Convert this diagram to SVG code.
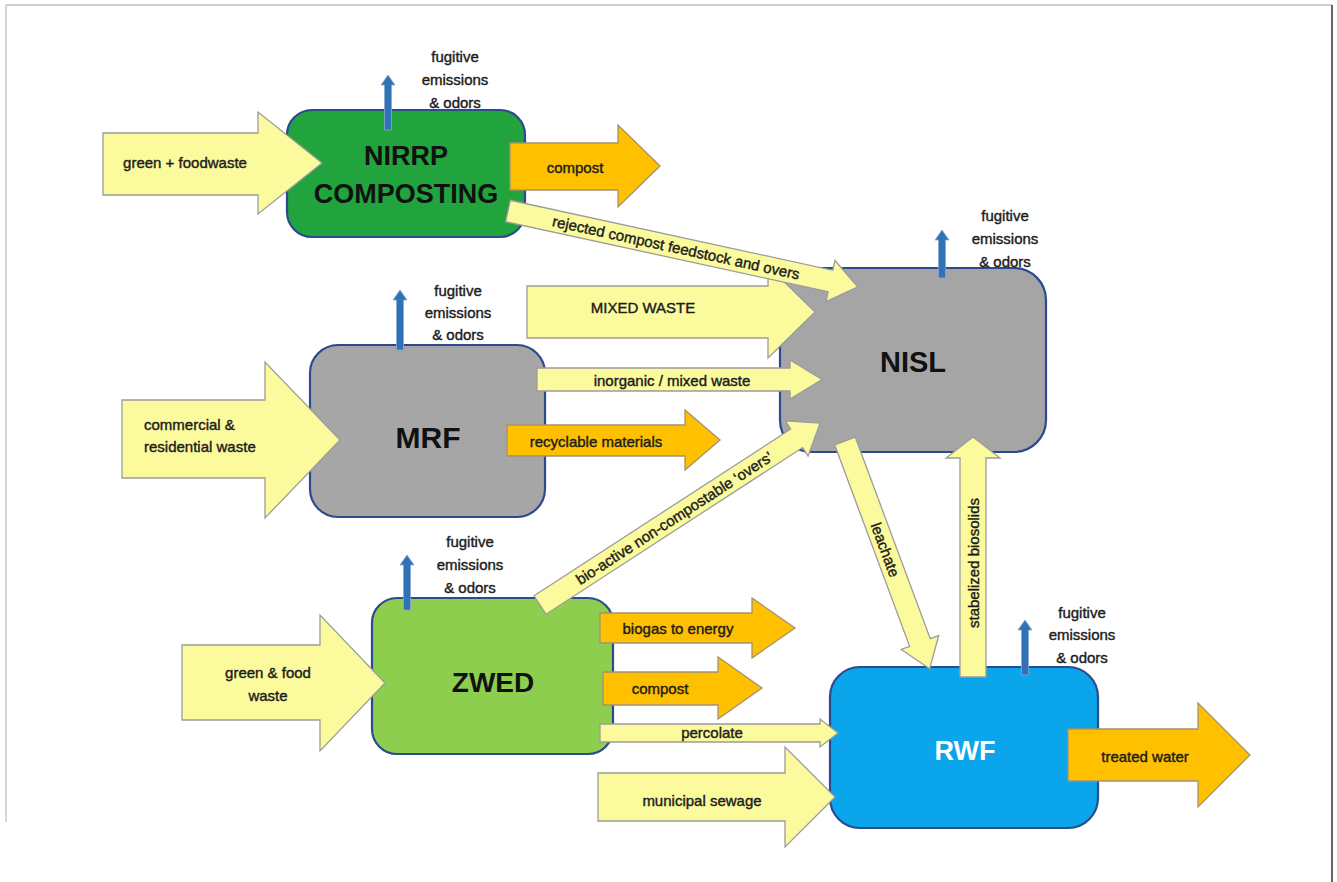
<svg xmlns="http://www.w3.org/2000/svg" width="1337" height="882" viewBox="0 0 1337 882">
<defs>
<style>
.y{fill:#fbfb9e;stroke:#9c9c9c;stroke-width:1.3}
.o{fill:#ffc000;stroke:#a39270;stroke-width:1.3}
.b{fill:#2f72b8;stroke:#8aa8cc;stroke-width:0.8}
.box{stroke:#2c4a8e;stroke-width:2.2}
.t{font-family:"Liberation Sans",Arial,sans-serif;font-size:15px;fill:#1c1c1c;stroke:#1c1c1c;stroke-width:0.4;text-anchor:middle;dominant-baseline:central}
.tl{text-anchor:start}
.n{font-family:"Liberation Sans",Arial,sans-serif;font-weight:bold;fill:#111;text-anchor:middle;dominant-baseline:central}
</style>
</defs>
<rect width="1337" height="882" fill="#ffffff"/>
<g id="frame" fill="none">
<line x1="6" y1="5" x2="1332" y2="5" stroke="#cfcfcf" stroke-width="2"/>
<line x1="6" y1="5" x2="6" y2="822" stroke="#d6d6d6" stroke-width="2"/>
<line x1="1332" y1="5" x2="1332" y2="882" stroke="#333" stroke-width="1.5"/>
</g>

<g id="nirrp">
<rect class="box" x="287" y="110" width="238" height="127" rx="25" fill="#21a33e"/>
<text class="n" x="406" y="156" font-size="27">NIRRP</text>
<text class="n" x="406" y="194" font-size="27">COMPOSTING</text>
</g>
<g id="nisl">
<rect class="box" x="780" y="268" width="266" height="184" rx="32" fill="#a5a5a5"/>
<text class="n" x="913" y="362" font-size="29">NISL</text>
</g>
<g id="mrf">
<rect class="box" x="310" y="345" width="235" height="172" rx="28" fill="#a6a6a6"/>
<text class="n" x="428" y="437" font-size="30">MRF</text>
</g>
<g id="zwed">
<rect class="box" x="372" y="598" width="241" height="156" rx="25" fill="#8dce4e"/>
<text class="n" x="493" y="682" font-size="28">ZWED</text>
</g>
<g id="rwf">
<rect class="box" x="830" y="667" width="268" height="161" rx="30" fill="#0aa5ea"/>
<text class="n" x="965" y="751" font-size="27" style="fill:#ffffff">RWF</text>
</g>

<g id="connectors">
<polygon class="y" points="103,133 258,133 258,112 322,163 258,214 258,195 103,195"/>
<polygon class="y" points="122,400 265,400 265,362 340,440 265,518 265,478 122,478"/>
<polygon class="y" points="182,645 320,645 320,615 385,683 320,751 320,720 182,720"/>
<polygon class="y" points="527,286 768,286 768,266 815,312 768,358 768,338 527,338"/>
<polygon class="y" points="598,773 785,773 785,747 835,797 785,847 785,821 598,821"/>
<polygon class="y" points="537,368 790,368 790,360 822,379.5 790,399 790,391 537,391"/>
<polygon class="y" points="600,724 820,724 820,719 838,733 820,747 820,742 600,742"/>
<g transform="translate(508,211) rotate(12.25)">
<polygon class="y" points="0,-11 330,-11 330,-21 358,0 330,21 330,11 0,11"/>
<text class="t" x="172" y="0">rejected compost feedstock and overs</text>
</g>
<g transform="translate(540,605) rotate(-33)">
<polygon class="y" points="0,-11 306,-11 306,-21 334,0 306,21 306,11 0,11"/>
<text class="t" x="160" y="0">bio-active non-compostable ‘overs’</text>
</g>
<g transform="translate(845,441) rotate(69.6)">
<polygon class="y" points="0,-11 215,-11 215,-20 243,0 215,20 215,11 0,11"/>
<text class="t" x="116" y="0">leachate</text>
</g>
<polygon class="y" points="960,677 960,458 946,458 973,437 1000,458 986,458 986,677"/>
<text class="t" transform="translate(973,563) rotate(-90)" x="0" y="0">stabelized biosolids</text>
<polygon class="o" points="510,143 618,143 618,125 660,166 618,207 618,190 510,190"/>
<polygon class="o" points="507,425 685,425 685,410 720,440 685,470 685,456 507,456"/>
<polygon class="o" points="600,613 752,613 752,598 795,628 752,658 752,643 600,643"/>
<polygon class="o" points="603,672 718,672 718,657 762,688 718,719 718,705 603,705"/>
<polygon class="o" points="1068,729 1198,729 1198,703 1250,755 1198,807 1198,781 1068,781"/>
<polygon class="b" points="384.5,130 384.5,85 381,85 388,75 395,85 391.5,85 391.5,130"/>
<polygon class="b" points="396.5,350 396.5,300 393,300 400,290 407,300 403.5,300 403.5,350"/>
<polygon class="b" points="403.5,610 403.5,565 400,565 407,555 414,565 410.5,565 410.5,610"/>
<polygon class="b" points="938.5,278 938.5,240 935,240 942,230 949,240 945.5,240 945.5,278"/>
<polygon class="b" points="1021.5,675 1021.5,630 1018,630 1025,620 1032,630 1028.5,630 1028.5,675"/>
<text class="t" x="185" y="162">green + foodwaste</text>
<text class="t tl" x="144" y="424">commercial &amp;</text>
<text class="t tl" x="144" y="446">residential waste</text>
<text class="t" x="268" y="672">green &amp; food</text>
<text class="t" x="268" y="695">waste</text>
<text class="t" x="643" y="307">MIXED WASTE</text>
<text class="t" x="702" y="800">municipal sewage</text>
<text class="t" x="672" y="380">inorganic / mixed waste</text>
<text class="t" x="712" y="732">percolate</text>
<text class="t" x="575" y="167">compost</text>
<text class="t" x="596" y="441">recyclable materials</text>
<text class="t" x="678" y="628">biogas to energy</text>
<text class="t" x="660" y="688">compost</text>
<text class="t" x="1145" y="756">treated water</text>
<text class="t" x="455" y="56">fugitive</text>
<text class="t" x="455" y="79">emissions</text>
<text class="t" x="455" y="102">&amp; odors</text>
<text class="t" x="458" y="290">fugitive</text>
<text class="t" x="458" y="312">emissions</text>
<text class="t" x="458" y="334">&amp; odors</text>
<text class="t" x="470" y="541">fugitive</text>
<text class="t" x="470" y="564">emissions</text>
<text class="t" x="470" y="587">&amp; odors</text>
<text class="t" x="1005" y="215">fugitive</text>
<text class="t" x="1005" y="238">emissions</text>
<text class="t" x="1005" y="261">&amp; odors</text>
<text class="t" x="1082" y="612">fugitive</text>
<text class="t" x="1082" y="634">emissions</text>
<text class="t" x="1082" y="657">&amp; odors</text>
</g>
</svg>
